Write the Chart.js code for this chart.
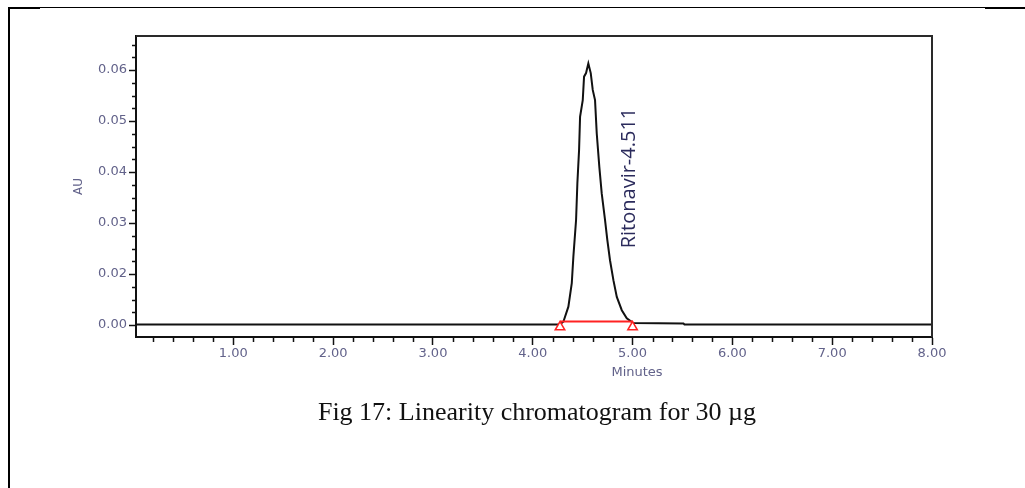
<!DOCTYPE html>
<html>
<head>
<meta charset="utf-8">
<script src="https://cdn.jsdelivr.net/npm/chart.js@4"></script>
<style>
  html, body { margin: 0; padding: 0; background: #fff; }
  body { width: 1025px; height: 488px; position: relative; overflow: hidden; }
  #chromatogram { position: absolute; left: 0; top: 0; }
  .rule { position: absolute; background: #000; }
  #caption {
    position: absolute; left: 0; width: 1074px; top: 399px; text-align: center; white-space: nowrap;
    font-family: 'Liberation Serif', serif; font-size: 26px; line-height: 26px; color: #111;
  }
</style>
</head>
<body>
<div class="rule" style="left:8px;top:7px;width:2px;height:481px"></div>
<div class="rule" style="left:8px;top:7px;width:1017px;height:1px"></div>
<div class="rule" style="left:8px;top:7px;width:32px;height:2px"></div>
<div class="rule" style="left:985px;top:7px;width:40px;height:2px"></div>
<canvas id="chromatogram" width="1025" height="400"></canvas>
<div id="caption">Fig 17: Linearity chromatogram for 30 µg</div>
<script>
// detector trace (minutes, AU above baseline)
const traceTime = [0.03, 4.27, 4.307, 4.357, 4.391, 4.407, 4.434, 4.447, 4.464, 4.474, 4.501, 4.514,
  4.534, 4.557, 4.581, 4.601, 4.624, 4.641, 4.667, 4.691, 4.724, 4.747, 4.774, 4.808, 4.842,
  4.892, 4.942, 5.008, 5.51, 5.52, 8.0]
const traceAU = [0.0001, 0.0001, 0.00065, 0.0036, 0.0082, 0.0134, 0.0206, 0.0278, 0.0343, 0.0408,
  0.0441, 0.0487, 0.0494, 0.0513, 0.0494, 0.0461, 0.0441, 0.0376, 0.031, 0.0258, 0.0206, 0.0167,
  0.0127, 0.0088, 0.0055, 0.0029, 0.0013, 0.0004, 0.0003, 0.0001, 0.0001]

// integration baseline and its start / end markers
const integrationTime = [4.273, 5.0]
const integrationAU = [0.0007, 0.0007]
const markerAU = [-0.0004, -0.0004]

const peakName = 'Ritonavir-4.511'
const xTicks = [1, 2, 3, 4, 5, 6, 7, 8]
const yTicks = [0, 0.01, 0.02, 0.03, 0.04, 0.05]
// labels as printed on the source axis (it jumps from 0.00 to 0.02)
const yTickLabels = ['0.00', '0.02', '0.03', '0.04', '0.05', '0.06']

const toPoints = (xs, ys) => xs.map((x, i) => ({ x: x, y: ys[i] }))

const labelColor = '#62628a'
const tickFont = { family: 'DejaVu Sans', size: 13 }

const extras = {
  id: 'extras',
  afterDraw(chart) {
    const { ctx, chartArea, scales } = chart
    const x = scales.x
    const y = scales.y
    ctx.save()
    // top and right edges of the plot frame
    ctx.strokeStyle = '#2a2a2a'
    ctx.lineWidth = 2
    ctx.beginPath()
    ctx.moveTo(chartArea.left, chartArea.top)
    ctx.lineTo(chartArea.right, chartArea.top)
    ctx.lineTo(chartArea.right, chartArea.bottom)
    ctx.stroke()

    // minor ticks
    ctx.strokeStyle = '#111'
    ctx.lineWidth = 1.5
    ctx.beginPath()
    for (let i = 1; i < 40; i++) {
      if (i % 5 === 0) continue
      const px = Math.round(x.getPixelForValue(i * 0.2)) + 0.5
      ctx.moveTo(px, chartArea.bottom)
      ctx.lineTo(px, chartArea.bottom + 5)
    }
    for (let i = 0; i < 24; i++) {
      if (i % 4 === 0) continue
      const py = Math.round(y.getPixelForValue(i * 0.0025)) + 0.5
      if (py < chartArea.top) continue
      ctx.moveTo(chartArea.left - 4, py)
      ctx.lineTo(chartArea.left, py)
    }
    ctx.stroke()

    // axis title under the minutes axis
    ctx.fillStyle = labelColor
    ctx.font = '13px "DejaVu Sans"'
    ctx.textAlign = 'center'
    ctx.textBaseline = 'middle'
    ctx.fillText('Minutes', 637, 373)

    // peak label, rotated
    ctx.translate(629, 178)
    ctx.rotate(-Math.PI / 2)
    ctx.fillStyle = '#2b2b5c'
    ctx.font = '20px "Open Sans"'
    ctx.fillText(peakName, 0, 0)
    ctx.restore()
  },
}

new Chart(document.getElementById('chromatogram'), {
  type: 'line',
  data: {
    datasets: [
      {
        data: toPoints(traceTime, traceAU),
        borderColor: '#111',
        borderWidth: 2,
        pointRadius: 0,
        tension: 0,
        order: 3,
      },
      {
        data: toPoints(integrationTime, integrationAU),
        borderColor: '#ff2222',
        borderWidth: 2,
        pointRadius: 0,
        order: 2,
      },
      {
        data: toPoints(integrationTime, markerAU),
        showLine: false,
        pointStyle: 'triangle',
        pointRadius: 5.5,
        pointBorderColor: '#ff2222',
        pointBackgroundColor: '#fff',
        pointBorderWidth: 1.5,
        order: 1,
      },
    ],
  },
  options: {
    responsive: false,
    animation: false,
    layout: { padding: { left: 0, top: 36, right: 93, bottom: 0 } },
    plugins: { legend: { display: false }, tooltip: { enabled: false } },
    scales: {
      x: {
        type: 'linear',
        min: 0.025,
        max: 8,
        afterBuildTicks: (scale) => {
          scale.ticks = xTicks.map((v) => ({ value: v }))
        },
        afterFit: (scale) => {
          scale.height = 63
        },
        ticks: {
          color: labelColor,
          font: tickFont,
          padding: 1,
          maxRotation: 0,
          callback: (v) => v.toFixed(2),
        },
        grid: { drawOnChartArea: false, tickLength: 8, tickColor: '#111', tickWidth: 1.5 },
        border: { color: '#111', width: 2 },
      },
      y: {
        min: -0.00235,
        max: 0.05667,
        afterBuildTicks: (scale) => {
          scale.ticks = yTicks.map((v) => ({ value: v }))
        },
        afterFit: (scale) => {
          scale.width = 136
        },
        ticks: {
          color: labelColor,
          font: tickFont,
          padding: 2,
          callback: (v, i) => yTickLabels[i],
        },
        title: {
          display: true,
          text: 'AU',
          color: labelColor,
          font: { family: 'DejaVu Sans', size: 12 },
          padding: { top: 72, bottom: 0 },
        },
        grid: { drawOnChartArea: false, tickLength: 7, tickColor: '#111', tickWidth: 1.5 },
        border: { color: '#111', width: 2 },
      },
    },
  },
  plugins: [extras],
})
</script>
</body>
</html>
